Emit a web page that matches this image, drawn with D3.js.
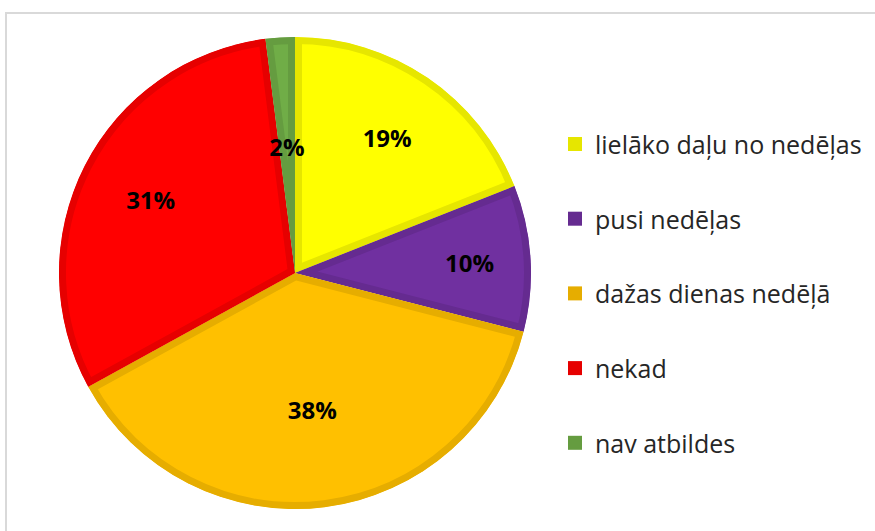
<!DOCTYPE html>
<html>
<head>
<meta charset="utf-8">
<script src="https://cdn.jsdelivr.net/npm/d3@7"></script>
<style>
  html, body { margin: 0; padding: 0; background: #fff; }
  svg { display: block; }
</style>
</head>
<body>
<svg id="chart" width="875" height="531"></svg>
<script>
// Survey answers and their shares (percent)
const categories = [
  "lielāko daļu no nedēļas",
  "pusi nedēļas",
  "dažas dienas nedēļā",
  "nekad",
  "nav atbildes"
];
const values = [19, 10, 38, 31, 2];
const fills   = ["#FFFF00", "#7030A0", "#FFC000", "#FF0000", "#70AD47"];
const strokes = ["#E6E600", "#652B90", "#E6AD00", "#E60000", "#659C40"];

// Layout
const W = 875, H = 531;
const cx = 295, cy = 273, R = 236;
const borderW = 7;
// distance of each value label from the centre
const labelRadius = [164, 175, 138, 162, 127];
const legendX = 568, legendY0 = 144, legendStep = 74.7, swatch = 14;

const svg = d3.select("#chart");

// frame around the chart area
svg.append("path")
  .attr("d", `M6,${H + 2} L6,13 L${W + 2},13`)
  .attr("fill", "none")
  .attr("stroke", "#d9d9d9")
  .attr("stroke-width", 2);

const pie = d3.pie().value(d => d).sort(null);
const arcs = pie(values);
const arc = d3.arc().innerRadius(0).outerRadius(R);

const defs = svg.append("defs");
const g = svg.append("g").attr("transform", `translate(${cx},${cy})`);

// each slice clipped to itself so its darker border stays inside it
arcs.forEach((a, i) => {
  defs.append("clipPath").attr("id", "clip" + i)
    .append("path").attr("d", arc(a));
});

g.selectAll("path.slice")
  .data(arcs)
  .join("path")
  .attr("class", "slice")
  .attr("d", arc)
  .attr("fill", (d, i) => fills[i])
  .attr("stroke", (d, i) => strokes[i])
  .attr("stroke-width", borderW * 2)
  .attr("stroke-linejoin", "miter")
  .attr("clip-path", (d, i) => `url(#clip${i})`);

// value labels
g.selectAll("text.val")
  .data(arcs)
  .join("text")
  .attr("class", "val")
  .attr("transform", (d, i) => {
    const ang = (d.startAngle + d.endAngle) / 2;
    const r = labelRadius[i];
    return `translate(${r * Math.sin(ang)},${-r * Math.cos(ang)})`;
  })
  .attr("text-anchor", "middle")
  .attr("dominant-baseline", "central")
  .attr("font-family", "'Open Sans', Lato, sans-serif")
  .attr("font-weight", "bold")
  .attr("font-size", 24)
  .attr("fill", "#000")
  .text(d => d.data + "%");

// legend
const leg = svg.append("g");
const items = leg.selectAll("g")
  .data(categories)
  .join("g")
  .attr("transform", (d, i) => `translate(${legendX},${legendY0 + i * legendStep})`);

items.append("rect")
  .attr("x", 0)
  .attr("y", -swatch / 2)
  .attr("width", swatch)
  .attr("height", swatch)
  .attr("fill", (d, i) => strokes[i]);

items.append("text")
  .attr("x", 27)
  .attr("y", 0)
  .attr("dominant-baseline", "central")
  .attr("font-family", "'Open Sans', Lato, sans-serif")
  .attr("font-size", 25)
  .attr("fill", "#262626")
  .text(d => d);
</script>
</body>
</html>
